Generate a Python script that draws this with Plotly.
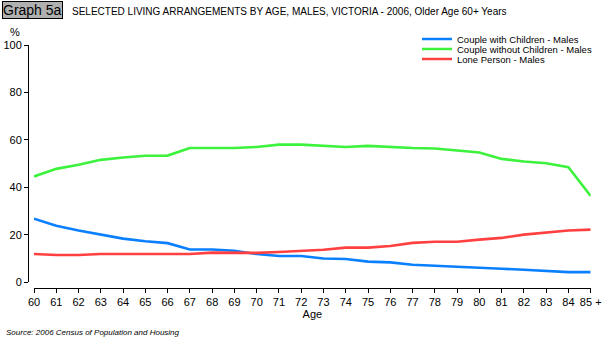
import plotly.graph_objects as go

# Age groups (years) and their axis labels
ages = list(range(60, 86))
age_labels = [str(a) for a in range(60, 85)] + ["85 +"]

# Share of males in each living arrangement (%)
couple_with_children = [26.8, 23.8, 21.8, 20.1, 18.4, 17.3, 16.5, 13.8, 13.8, 13.3,
                        11.9, 11.1, 11.1, 10.0, 9.8, 8.7, 8.4, 7.4, 6.9, 6.5,
                        6.2, 5.7, 5.3, 4.9, 4.3, 4.3]
couple_without_children = [44.6, 47.8, 49.5, 51.6, 52.6, 53.3, 53.4, 56.6, 56.6, 56.6,
                           57.0, 58.0, 58.0, 57.5, 57.0, 57.5, 57.0, 56.6, 56.4, 55.4,
                           54.7, 52.0, 50.9, 50.2, 48.5, 36.4]
lone_person = [11.9, 11.5, 11.5, 11.9, 11.9, 11.9, 11.9, 11.9, 12.5, 12.5,
               12.4, 12.8, 13.3, 13.7, 14.6, 14.6, 15.3, 16.6, 17.1, 17.1,
               18.0, 18.7, 20.1, 20.9, 21.8, 22.2]

y_ticks = [0, 20, 40, 60, 80, 100]

W, H = 605, 344
FONT = "Liberation Sans"


def px_x(p):
    return p / W


def px_y(p):
    return 1 - p / H


fig = go.Figure()
series = [
    ("Couple with Children - Males", couple_with_children, "#0a80ff", "legend", 39),
    ("Couple without Children - Males", couple_without_children, "#3cf23c", "legend2", 49),
    ("Lone Person - Males", lone_person, "#ff4040", "legend3", 59),
]
legend_cfg = {}
for name, vals, color, leg, row_y in series:
    fig.add_trace(go.Scatter(x=ages, y=vals, mode="lines", name=name, legend=leg,
                             line=dict(color=color, width=2.6)))
    # one single-entry legend per series so the rows can sit close together
    legend_cfg[leg] = dict(x=px_x(417), y=px_y(row_y), xanchor="left", yanchor="middle",
                           font=dict(family=FONT, size=9.5, color="black"),
                           itemwidth=30, bgcolor="rgba(0,0,0,0)")

fig.update_layout(
    width=W, height=H,
    margin=dict(l=0, r=0, t=0, b=0),
    paper_bgcolor="white", plot_bgcolor="white",
    font=dict(family=FONT, size=11, color="black"),
    showlegend=True,
    **legend_cfg,
    xaxis=dict(domain=[px_x(34), px_x(590.7)], range=[60, 85],
               anchor="free", position=px_y(288),
               tickvals=ages, ticktext=age_labels, ticks="outside", ticklen=4,
               showline=True, linecolor="black", linewidth=1, tickcolor="black",
               showgrid=False, zeroline=False, automargin=False,
               tickfont=dict(size=11),
               title=dict(text="Age", font=dict(size=11), standoff=2)),
    yaxis=dict(domain=[px_y(282.3), px_y(45)], range=[0, 100],
               anchor="free", position=px_x(28),
               tickvals=y_ticks, ticks="outside", ticklen=4,
               showline=True, linecolor="black", linewidth=1, tickcolor="black",
               showgrid=False, zeroline=False, automargin=False,
               tickfont=dict(size=11)),
    annotations=[
        dict(text="Graph 5a", x=px_x(2), y=px_y(1), xref="paper", yref="paper",
             xanchor="left", yanchor="top", showarrow=False,
             font=dict(family=FONT, size=14, color="black"),
             bgcolor="#b0b0b0", bordercolor="black", borderwidth=1, borderpad=0),
        dict(text="SELECTED LIVING ARRANGEMENTS BY AGE, MALES, VICTORIA - 2006, Older Age 60+ Years",
             x=px_x(70), y=px_y(11), xref="paper", yref="paper",
             xanchor="left", yanchor="middle", showarrow=False,
             font=dict(family=FONT, size=10, color="black")),
        dict(text="%", x=px_x(15), y=px_y(32), xref="paper", yref="paper",
             xanchor="center", yanchor="middle", showarrow=False,
             font=dict(family=FONT, size=11, color="black")),
        dict(text="<i>Source: 2006 Census of Population and Housing</i>",
             x=px_x(4), y=px_y(332), xref="paper", yref="paper",
             xanchor="left", yanchor="middle", showarrow=False,
             font=dict(family=FONT, size=8, color="black")),
    ],
)

fig.write_html("out.html")
